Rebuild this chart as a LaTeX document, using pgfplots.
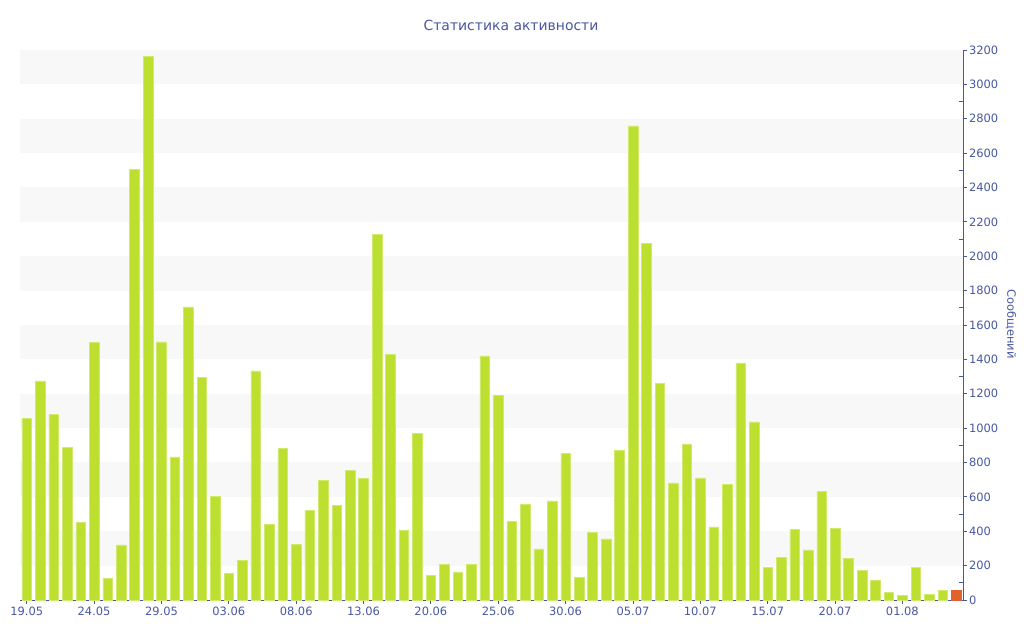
\documentclass[border=0pt]{standalone}
\usepackage{pgfplots}
\pgfplotsset{compat=1.18}
\usepackage{fontspec}
\setmainfont{DejaVu Sans}
\definecolor{barg}{HTML}{BDE030}
\definecolor{bare}{HTML}{D0EA6E}
\definecolor{baro}{HTML}{E2622C}
\definecolor{axb}{HTML}{4757A0}
\definecolor{band}{HTML}{F8F8F8}
\pgfplotstableread{
x y
0 1058
1 1275
2 1078
3 888
4 453
5 1501
6 127
7 320
8 2504
9 3163
10 1502
11 832
12 1706
13 1297
14 602
15 153
16 232
17 1333
18 441
19 880
20 324
21 521
22 697
23 549
24 754
25 709
26 2129
27 1431
28 406
29 968
30 142
31 207
32 163
33 207
34 1420
35 1189
36 458
37 557
38 297
39 576
40 855
41 132
42 394
43 355
44 869
45 2758
46 2077
47 1261
48 681
49 908
50 710
51 425
52 674
53 1379
54 1036
55 188
56 246
57 413
58 291
59 632
60 415
61 240
62 172
63 112
64 43
65 29
66 190
67 31
68 54
}\greendata
\pgfplotstableread{
x y
69 56
}\orangedata
\begin{document}
\begin{tikzpicture}[x=1bp,y=1bp]
\path[use as bounding box] (0,0) rectangle (1024,640);
\begin{axis}[
  at={(20bp,40bp)}, anchor=south west,
  scale only axis, width=943bp, height=550bp,
  xmin=-0.5, xmax=69.5, ymin=0, ymax=3200,
  axis y line*=right, axis x line*=bottom,
  axis line style={axb, line width=0.9bp},
  tick style={axb, line width=0.8bp},
  tick align=outside,
  major tick length=4bp,
  minor tick length=4bp,
  minor tick style={xshift=-4bp},
  ytick={0,200,...,3200},
  minor y tick num=1,
  xtick={0,5,...,65},
  xticklabels={19.05,24.05,29.05,03.06,08.06,13.06,20.06,25.06,30.06,05.07,10.07,15.07,20.07,01.08},
  x tick label style={font=\fontsize{11.5}{13}\selectfont, text=axb, yshift=1bp},
  y tick label style={font=\fontsize{11.5}{13}\selectfont, text=axb, xshift=-1.5bp},
  /pgf/number format/assume math mode=true,
  /pgf/number format/1000 sep={},
  scaled y ticks=false,
  ybar, bar width=9.6bp,
  clip=false,
]
\pgfplotsinvokeforeach{200,600,1000,1400,1800,2200,2600,3000}{
  \fill[band] (axis cs:-0.5,#1) rectangle (axis cs:69.5,#1+200);
}
\addplot[bar shift=0pt, fill=barg, draw=bare, line width=0.5bp] table[x=x,y=y]{\greendata};
\addplot[bar shift=0pt, fill=baro, draw=baro, line width=0.5bp] table[x=x,y=y]{\orangedata};
\end{axis}
\node[text=axb, font=\fontsize{14}{16}\selectfont] at (511,615) {Статистика активности};
\node[text=axb, font=\fontsize{11.5}{13}\selectfont, rotate=-90] at (1011,316) {Сообщений};
\end{tikzpicture}
\end{document}
